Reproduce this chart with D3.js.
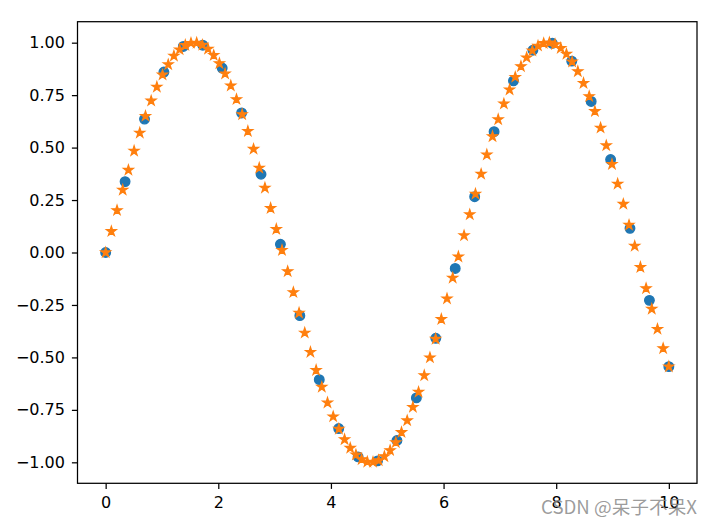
<!DOCTYPE html>
<html>
<head>
<meta charset="utf-8">
<script src="https://cdn.jsdelivr.net/npm/d3@7"></script>
<style>
  html, body { margin: 0; padding: 0; background: #fff; }
  svg { display: block; }
</style>
</head>
<body>
<div id="chart"></div>
<script>
// Coarse sample (blue circles)
const blueX = [0.000, 0.345, 0.690, 1.034, 1.379, 1.724, 2.069, 2.414, 2.759, 3.103,
  3.448, 3.793, 4.138, 4.483, 4.828, 5.172, 5.517, 5.862, 6.207, 6.552,
  6.897, 7.241, 7.586, 7.931, 8.276, 8.621, 8.966, 9.310, 9.655, 10.000];
const blueY = [0.000, 0.338, 0.636, 0.860, 0.982, 0.988, 0.879, 0.665, 0.373, 0.039,
  -0.301, -0.606, -0.839, -0.974, -0.993, -0.896, -0.693, -0.409, -0.076, 0.266,
  0.576, 0.818, 0.964, 0.997, 0.912, 0.720, 0.443, 0.115, -0.228, -0.544];

// Fine sample (orange stars)
const orangeX = [0.000, 0.101, 0.202, 0.303, 0.404, 0.505, 0.606, 0.707, 0.808, 0.909,
  1.010, 1.111, 1.212, 1.313, 1.414, 1.515, 1.616, 1.717, 1.818, 1.919,
  2.020, 2.121, 2.222, 2.323, 2.424, 2.525, 2.626, 2.727, 2.828, 2.929,
  3.030, 3.131, 3.232, 3.333, 3.434, 3.535, 3.636, 3.737, 3.838, 3.939,
  4.040, 4.141, 4.242, 4.343, 4.444, 4.545, 4.646, 4.747, 4.848, 4.949,
  5.051, 5.152, 5.253, 5.354, 5.455, 5.556, 5.657, 5.758, 5.859, 5.960,
  6.061, 6.162, 6.263, 6.364, 6.465, 6.566, 6.667, 6.768, 6.869, 6.970,
  7.071, 7.172, 7.273, 7.374, 7.475, 7.576, 7.677, 7.778, 7.879, 7.980,
  8.081, 8.182, 8.283, 8.384, 8.485, 8.586, 8.687, 8.788, 8.889, 8.990,
  9.091, 9.192, 9.293, 9.394, 9.495, 9.596, 9.697, 9.798, 9.899, 10.000];
const orangeY = [0.000, 0.101, 0.201, 0.298, 0.393, 0.484, 0.570, 0.650, 0.723, 0.789,
  0.847, 0.896, 0.937, 0.967, 0.988, 0.998, 0.999, 0.989, 0.970, 0.940,
  0.901, 0.852, 0.795, 0.730, 0.658, 0.578, 0.493, 0.403, 0.308, 0.211,
  0.111, 0.011, -0.090, -0.190, -0.288, -0.383, -0.475, -0.561, -0.641, -0.716,
  -0.782, -0.841, -0.891, -0.932, -0.964, -0.986, -0.998, -0.999, -0.991, -0.972,
  -0.943, -0.905, -0.857, -0.801, -0.737, -0.665, -0.586, -0.501, -0.412, -0.318,
  -0.220, -0.121, -0.020, 0.081, 0.181, 0.279, 0.374, 0.466, 0.553, 0.634,
  0.709, 0.776, 0.836, 0.887, 0.929, 0.962, 0.985, 0.997, 1.000, 0.992,
  0.974, 0.946, 0.909, 0.863, 0.807, 0.744, 0.673, 0.594, 0.510, 0.421,
  0.327, 0.231, 0.131, 0.031, -0.070, -0.171, -0.269, -0.365, -0.457, -0.544];

const xTicks = [0, 2, 4, 6, 8, 10];
const yTicks = [-1.00, -0.75, -0.50, -0.25, 0.00, 0.25, 0.50, 0.75, 1.00];
const watermark = "CSDN @呆子不呆X";

const W = 713, H = 526;
const plot = { left: 77.5, right: 697, top: 21.7, bottom: 483.3 };

const svg = d3.select("#chart").append("svg")
  .attr("width", W).attr("height", H)
  .style("font-family", "'DejaVu Sans', sans-serif");

const x = d3.scaleLinear().domain([-0.5, 10.5]).range([plot.left, plot.right]);
const y = d3.scaleLinear().domain([-1.1, 1.1]).range([plot.bottom, plot.top]);

const fmtY = v => d3.format(".2f")(v).replace("-", "\u2212");

// Axes
const xAxis = svg.append("g")
  .attr("transform", `translate(0,${plot.bottom})`)
  .call(d3.axisBottom(x).tickValues(xTicks).tickFormat(d3.format("d"))
    .tickSize(5.6).tickPadding(8));
const yAxis = svg.append("g")
  .attr("transform", `translate(${plot.left},0)`)
  .call(d3.axisLeft(y).tickValues(yTicks).tickFormat(fmtY)
    .tickSize(5.6).tickPadding(7));

[xAxis, yAxis].forEach(g => {
  g.select(".domain").remove();
  g.selectAll(".tick line").attr("stroke", "#000").attr("stroke-width", 1.25);
  g.selectAll(".tick text").attr("fill", "#000")
    .style("font-family", "'DejaVu Sans', sans-serif").style("font-size", "16px");
});

// Blue circles
const blueData = blueX.map((v, i) => [v, blueY[i]]);
svg.append("g").selectAll("circle").data(blueData).join("circle")
  .attr("cx", d => x(d[0])).attr("cy", d => y(d[1]))
  .attr("r", 4.8)
  .attr("fill", "#1f77b4")
  .attr("stroke", "#1f77b4").attr("stroke-width", 1.3);

// Orange stars
const orangeData = orangeX.map((v, i) => [v, orangeY[i]]);
const star = d3.symbol().type(d3.symbolStar).size(30);
svg.append("g").selectAll("path").data(orangeData).join("path")
  .attr("transform", d => `translate(${x(d[0])},${y(d[1])})`)
  .attr("d", star)
  .attr("fill", "#ff7f0e")
  .attr("stroke", "#ff7f0e").attr("stroke-width", 1.2)
  .attr("stroke-linejoin", "miter");

// Frame
svg.append("rect")
  .attr("x", plot.left).attr("y", plot.top)
  .attr("width", plot.right - plot.left).attr("height", plot.bottom - plot.top)
  .attr("fill", "none").attr("stroke", "#000").attr("stroke-width", 1.25);

// Watermark
svg.append("text")
  .attr("x", 541).attr("y", 514)
  .attr("textLength", 156).attr("lengthAdjust", "spacingAndGlyphs")
  .style("font-family", "'Noto Sans CJK SC', 'Noto Sans', sans-serif")
  .style("font-size", "18px")
  .attr("fill", "#8a8a8a").attr("fill-opacity", 0.85)
  .text(watermark);
</script>
</body>
</html>
